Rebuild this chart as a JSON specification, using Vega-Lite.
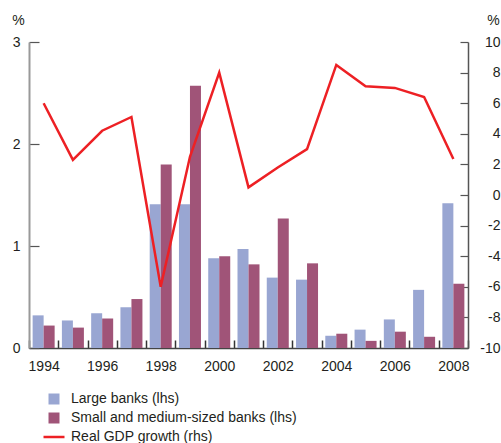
{
 "$schema": "https://vega.github.io/schema/vega-lite/v6.json",
 "width": 439, "height": 306,
 "autosize": {"type": "none"},
 "padding": {"left": 29, "top": 42, "right": 33, "bottom": 95},
 "config": {
  "font": "Liberation Sans",
  "view": {"stroke": null},
  "axis": {"grid": false, "labelFont": "Liberation Sans", "labelFontSize": 14, "labelColor": "#231f20", "titleFont": "Liberation Sans", "titleFontSize": 14, "titleFontWeight": "normal", "titleColor": "#231f20"}
 },
 "data": {"values": [
  {"year": 1994, "series": "Large banks (lhs)", "value": 0.32},
  {"year": 1995, "series": "Large banks (lhs)", "value": 0.27},
  {"year": 1996, "series": "Large banks (lhs)", "value": 0.34},
  {"year": 1997, "series": "Large banks (lhs)", "value": 0.40},
  {"year": 1998, "series": "Large banks (lhs)", "value": 1.41},
  {"year": 1999, "series": "Large banks (lhs)", "value": 1.41},
  {"year": 2000, "series": "Large banks (lhs)", "value": 0.88},
  {"year": 2001, "series": "Large banks (lhs)", "value": 0.97},
  {"year": 2002, "series": "Large banks (lhs)", "value": 0.69},
  {"year": 2003, "series": "Large banks (lhs)", "value": 0.67},
  {"year": 2004, "series": "Large banks (lhs)", "value": 0.12},
  {"year": 2005, "series": "Large banks (lhs)", "value": 0.18},
  {"year": 2006, "series": "Large banks (lhs)", "value": 0.28},
  {"year": 2007, "series": "Large banks (lhs)", "value": 0.57},
  {"year": 2008, "series": "Large banks (lhs)", "value": 1.42},
  {"year": 1994, "series": "Small and medium-sized banks (lhs)", "value": 0.22},
  {"year": 1995, "series": "Small and medium-sized banks (lhs)", "value": 0.20},
  {"year": 1996, "series": "Small and medium-sized banks (lhs)", "value": 0.29},
  {"year": 1997, "series": "Small and medium-sized banks (lhs)", "value": 0.48},
  {"year": 1998, "series": "Small and medium-sized banks (lhs)", "value": 1.80},
  {"year": 1999, "series": "Small and medium-sized banks (lhs)", "value": 2.57},
  {"year": 2000, "series": "Small and medium-sized banks (lhs)", "value": 0.90},
  {"year": 2001, "series": "Small and medium-sized banks (lhs)", "value": 0.82},
  {"year": 2002, "series": "Small and medium-sized banks (lhs)", "value": 1.27},
  {"year": 2003, "series": "Small and medium-sized banks (lhs)", "value": 0.83},
  {"year": 2004, "series": "Small and medium-sized banks (lhs)", "value": 0.14},
  {"year": 2005, "series": "Small and medium-sized banks (lhs)", "value": 0.07},
  {"year": 2006, "series": "Small and medium-sized banks (lhs)", "value": 0.16},
  {"year": 2007, "series": "Small and medium-sized banks (lhs)", "value": 0.11},
  {"year": 2008, "series": "Small and medium-sized banks (lhs)", "value": 0.63},
  {"year": 1994, "series": "Real GDP growth (rhs)", "value": 6.0},
  {"year": 1995, "series": "Real GDP growth (rhs)", "value": 2.3},
  {"year": 1996, "series": "Real GDP growth (rhs)", "value": 4.2},
  {"year": 1997, "series": "Real GDP growth (rhs)", "value": 5.1},
  {"year": 1998, "series": "Real GDP growth (rhs)", "value": -6.0},
  {"year": 1999, "series": "Real GDP growth (rhs)", "value": 2.5},
  {"year": 2000, "series": "Real GDP growth (rhs)", "value": 8.0},
  {"year": 2001, "series": "Real GDP growth (rhs)", "value": 0.5},
  {"year": 2002, "series": "Real GDP growth (rhs)", "value": 1.8},
  {"year": 2003, "series": "Real GDP growth (rhs)", "value": 3.0},
  {"year": 2004, "series": "Real GDP growth (rhs)", "value": 8.5},
  {"year": 2005, "series": "Real GDP growth (rhs)", "value": 7.1},
  {"year": 2006, "series": "Real GDP growth (rhs)", "value": 7.0},
  {"year": 2007, "series": "Real GDP growth (rhs)", "value": 6.4},
  {"year": 2008, "series": "Real GDP growth (rhs)", "value": 2.35}
 ]},
 "layer": [
  {
   "transform": [{"filter": "datum.series !== 'Real GDP growth (rhs)'"}],
   "mark": {"type": "bar"},
   "encoding": {
    "x": {"field": "year", "type": "ordinal",
          "scale": {"paddingInner": 0, "paddingOuter": 0},
          "axis": {"title": null, "labelAngle": 0, "tickBand": "extent", "tickSize": -8, "tickColor": "#333", "tickWidth": 1.5, "domainColor": "#444", "domainWidth": 1.5, "labelExpr": "datum.value % 2 == 0 ? datum.label : ''", "labelPadding": 19}},
    "xOffset": {"field": "series", "type": "nominal", "scale": {"paddingInner": 0, "paddingOuter": 0.33}},
    "y": {"field": "value", "type": "quantitative", "scale": {"domain": [0, 3]},
          "axis": {"title": "%", "titleAngle": 0, "titleX": -11, "titleY": -22, "titleAlign": "center", "titleBaseline": "middle", "values": [0, 1, 2, 3], "tickSize": -10, "tickColor": "#555", "tickWidth": 1.2, "domainColor": "#999", "domainWidth": 2, "labelPadding": 19}},
    "color": {"field": "series", "type": "nominal",
              "scale": {"domain": ["Large banks (lhs)", "Small and medium-sized banks (lhs)", "Real GDP growth (rhs)"], "range": ["#99a6d2", "#a05478", "#ed2024"]},
              "legend": {"orient": "none", "legendX": 18, "legendY": 350, "direction": "vertical", "title": null, "padding": 0,
                         "labelFont": "Liberation Sans", "labelFontSize": 14, "labelColor": "#231f20", "labelOffset": 10, "labelLimit": 0, "rowPadding": 5, "symbolSize": 121,
                         "encode": {"symbols": {"update": {
                           "shape": {"signal": "datum.value === 'Real GDP growth (rhs)' ? 'stroke' : 'square'"},
                           "size": {"signal": "datum.value === 'Real GDP growth (rhs)' ? 441 : 121"},
                           "fill": {"signal": "datum.value === 'Real GDP growth (rhs)' ? 'transparent' : scale('color', datum.value)"},
                           "stroke": {"signal": "datum.value === 'Real GDP growth (rhs)' ? scale('color', datum.value) : 'transparent'"},
                           "strokeWidth": {"signal": "datum.value === 'Real GDP growth (rhs)' ? 2.5 : 0"},
                           "opacity": {"value": 1}
                         }}}}}
   }
  },
  {
   "transform": [{"filter": "datum.series === 'Real GDP growth (rhs)'"}],
   "mark": {"type": "line", "strokeWidth": 2.5},
   "encoding": {
    "x": {"field": "year", "type": "ordinal"},
    "y": {"field": "value", "type": "quantitative", "scale": {"domain": [-10, 10]},
          "axis": {"orient": "right", "title": "%", "titleAngle": 0, "titleX": 25, "titleY": -22, "titleAlign": "center", "titleBaseline": "middle", "values": [-10, -8, -6, -4, -2, 0, 2, 4, 6, 8, 10], "labelExpr": "'' + datum.value", "tickSize": -8, "tickColor": "#555", "tickWidth": 1.2, "domainColor": "#555", "domainWidth": 1.5, "labelAlign": "right", "labelPadding": 40}},
    "color": {"field": "series", "type": "nominal"}
   }
  }
 ],
 "resolve": {"scale": {"y": "independent"}}
}
